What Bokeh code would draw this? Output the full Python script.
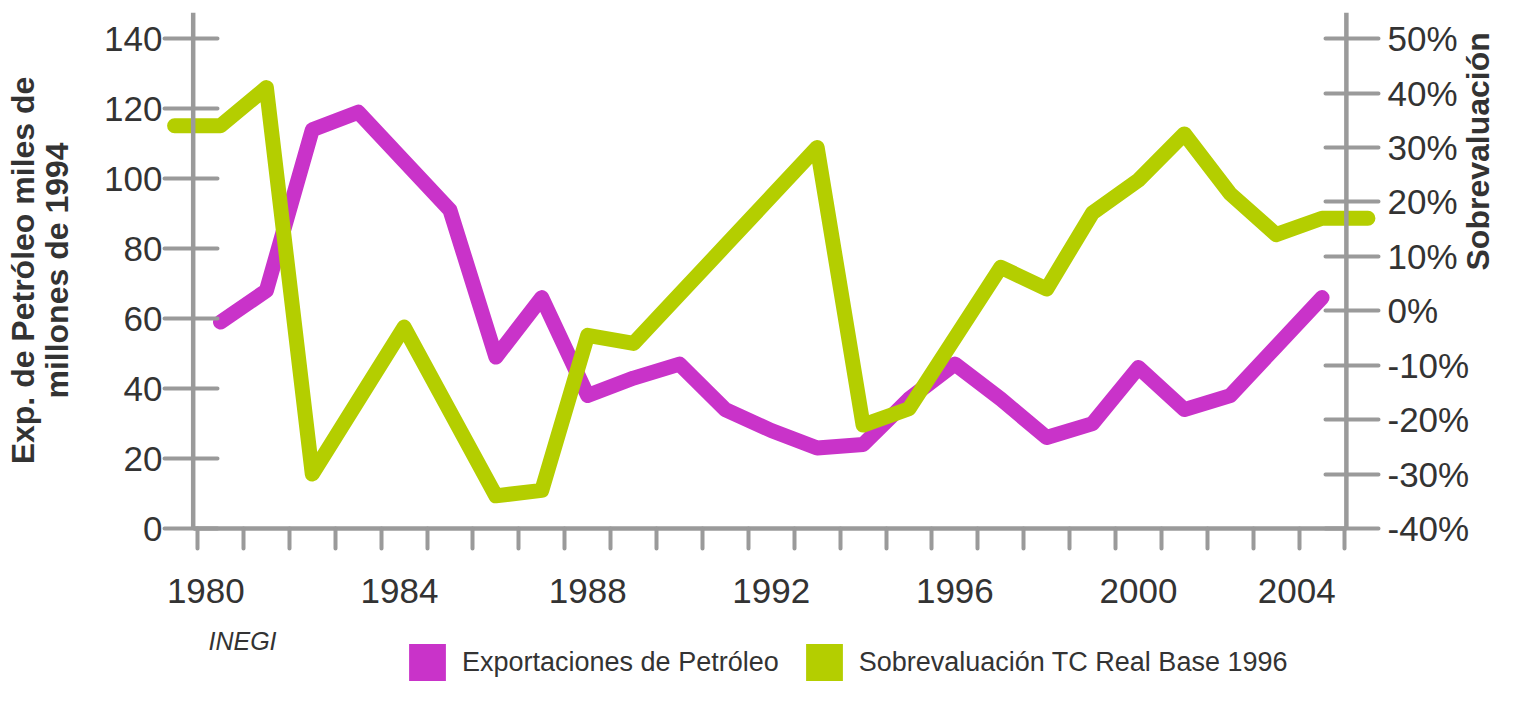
import math
from bokeh.plotting import figure
from bokeh.layouts import column
from bokeh.models import (Range1d, LinearAxis, FixedTicker, NumeralTickFormatter,
                          Legend, LegendItem, Span, Label)
from bokeh.embed import file_html
from bokeh.resources import INLINE

# ---------------- data ----------------
exp_years = list(range(1980, 2005))
exp_petroleo = [59, 68, 114, 119, 105, 91, 49, 66, 38, 43,
                47, 34, 28, 23, 24, 37, 47, 37, 26, 30,
                46, 34, 38, 52, 66]

sob_years = list(range(1979, 2006))
sobrevaluacion = [0.34, 0.34, 0.41, -0.30, -0.165, -0.03, -0.185, -0.34, -0.33, -0.045,
                  -0.06, 0.03, 0.12, 0.21, 0.30, -0.21, -0.18, -0.05, 0.08, 0.04,
                  0.18, 0.24, 0.325, 0.215, 0.14, 0.17, 0.17]

left_ticks = [0, 20, 40, 60, 80, 100, 120, 140]
right_ticks = [-0.4, -0.3, -0.2, -0.1, 0.0, 0.1, 0.2, 0.3, 0.4, 0.5]
year_labels = ["1980", "1984", "1988", "1992", "1996", "2000", "2004"]
year_label_pos = [1979.68, 1983.9, 1988, 1992, 1996, 2000, 2003.45]
year_tick_pos = [1979.5 + i for i in range(26)]

series_names = ["Exportaciones de Petróleo", "Sobrevaluación TC Real Base 1996"]
left_title = "Exp. de Petróleo miles de\nmillones de 1994"
right_title = "Sobrevaluación"
source_note = "INEGI"

# ---------------- style ----------------
MAGENTA = "#C933C9"
GREEN = "#B4CE00"
AXIS_GRAY = "#9a9a9a"
TEXT = "#333333"
FONT = "Liberation Sans"

LEFT_AXIS_X = 1979.405
RIGHT_AXIS_X = 2004.53

W = 1517
MAIN_H = 620
FOOT_H = 65

p = figure(width=W, height=MAIN_H,
           x_range=Range1d(1978.78, 2005.23), y_range=Range1d(0, 147.5),
           output_backend="svg", toolbar_location=None, title=None,
           x_axis_type=None, y_axis_type=None,
           min_border_left=164, min_border_right=139,
           min_border_top=12, min_border_bottom=92)
p.extra_y_ranges = {"pct": Range1d(-0.40, 0.548)}
p.xgrid.visible = False
p.ygrid.visible = False
p.outline_line_color = None
p.background_fill_color = "white"
p.border_fill_color = "white"

# x axis: tick marks at year boundaries, labels every four years
xaxis = LinearAxis(
    ticker=FixedTicker(ticks=year_label_pos, minor_ticks=year_tick_pos),
    major_label_overrides={pos: lab for pos, lab in zip(year_label_pos, year_labels)},
    bounds=(LEFT_AXIS_X, RIGHT_AXIS_X),
    axis_line_color=AXIS_GRAY, axis_line_width=4.5,
    major_tick_line_color=None, major_tick_out=0, major_tick_in=0,
    minor_tick_line_color=AXIS_GRAY, minor_tick_line_width=4,
    minor_tick_out=20, minor_tick_in=0, minor_tick_line_cap="round",
    major_label_standoff=30,
    major_label_text_font=FONT, major_label_text_font_size="35px",
    major_label_text_color=TEXT,
)
p.add_layout(xaxis, "below")

# left axis (labels + ticks; the axis rule is a Span at the axis position)
yl = LinearAxis(
    ticker=FixedTicker(ticks=left_ticks),
    axis_line_color=None,
    major_tick_line_color=AXIS_GRAY, major_tick_line_width=4,
    major_tick_out=0, major_tick_in=53, major_tick_line_cap="round",
    minor_tick_line_color=None,
    major_label_standoff=2,
    major_label_text_font=FONT, major_label_text_font_size="35px",
    major_label_text_color=TEXT,
    axis_label=left_title, axis_label_standoff=26,
    axis_label_text_font=FONT, axis_label_text_font_style="bold",
    axis_label_text_font_size="32px", axis_label_text_color=TEXT,
    axis_label_text_line_height=0.95,
)
p.add_layout(yl, "left")

# right axis
yr = LinearAxis(
    y_range_name="pct",
    ticker=FixedTicker(ticks=right_ticks),
    formatter=NumeralTickFormatter(format="0%"),
    axis_line_color=None,
    major_tick_line_color=AXIS_GRAY, major_tick_line_width=4,
    major_tick_out=0, major_tick_in=53, major_tick_line_cap="round",
    minor_tick_line_color=None,
    major_label_standoff=9,
    major_label_text_font=FONT, major_label_text_font_size="35px",
    major_label_text_color=TEXT,
    axis_label=right_title, axis_label_standoff=6,
    axis_label_text_font=FONT, axis_label_text_font_style="bold",
    axis_label_text_font_size="32px", axis_label_text_color=TEXT,
)
try:
    yr.axis_label_orientation = math.pi / 2
except Exception:
    pass
p.add_layout(yr, "right")

p.add_layout(Span(location=LEFT_AXIS_X, dimension="height",
                  line_color=AXIS_GRAY, line_width=4.5))
p.add_layout(Span(location=RIGHT_AXIS_X, dimension="height",
                  line_color=AXIS_GRAY, line_width=4.5))

# series
p.line(exp_years, exp_petroleo, line_width=15, line_color=MAGENTA,
       line_join="round", line_cap="round")
p.line(sob_years, sobrevaluacion, y_range_name="pct", line_width=15,
       line_color=GREEN, line_join="round", line_cap="round")

# ---------------- footer: source note + legend ----------------
f = figure(width=W, height=FOOT_H,
           x_range=Range1d(0, 1), y_range=Range1d(0, 1),
           output_backend="svg", toolbar_location=None, title=None,
           x_axis_type=None, y_axis_type=None, min_border=0)
f.xgrid.visible = False
f.ygrid.visible = False
f.outline_line_color = None
f.background_fill_color = "white"
f.border_fill_color = "white"

# screen units are measured from the footer frame's bottom-left corner
f.add_layout(Label(x=44, y=45, x_units="screen", y_units="screen",
                   text=source_note, text_align="left", text_baseline="middle",
                   text_font=FONT, text_font_style="italic",
                   text_font_size="25px", text_color=TEXT))

nan = float("nan")
r1 = f.rect(x=[nan], y=[nan], width=1, height=1, fill_color=MAGENTA, line_color=None)
r2 = f.rect(x=[nan], y=[nan], width=1, height=1, fill_color=GREEN, line_color=None)
legend = Legend(
    items=[LegendItem(label=series_names[0], renderers=[r1]),
           LegendItem(label=series_names[1], renderers=[r2])],
    location=(240, 0), orientation="horizontal",
    glyph_width=46, glyph_height=46, label_standoff=12, spacing=22,
    padding=0, margin=0, border_line_color=None, background_fill_alpha=0,
    label_text_font=FONT, label_text_font_size="27px", label_text_color=TEXT,
)
f.add_layout(legend, "center")

layout = column(p, f, spacing=0)
open("out.html", "w").write(file_html(layout, INLINE))
